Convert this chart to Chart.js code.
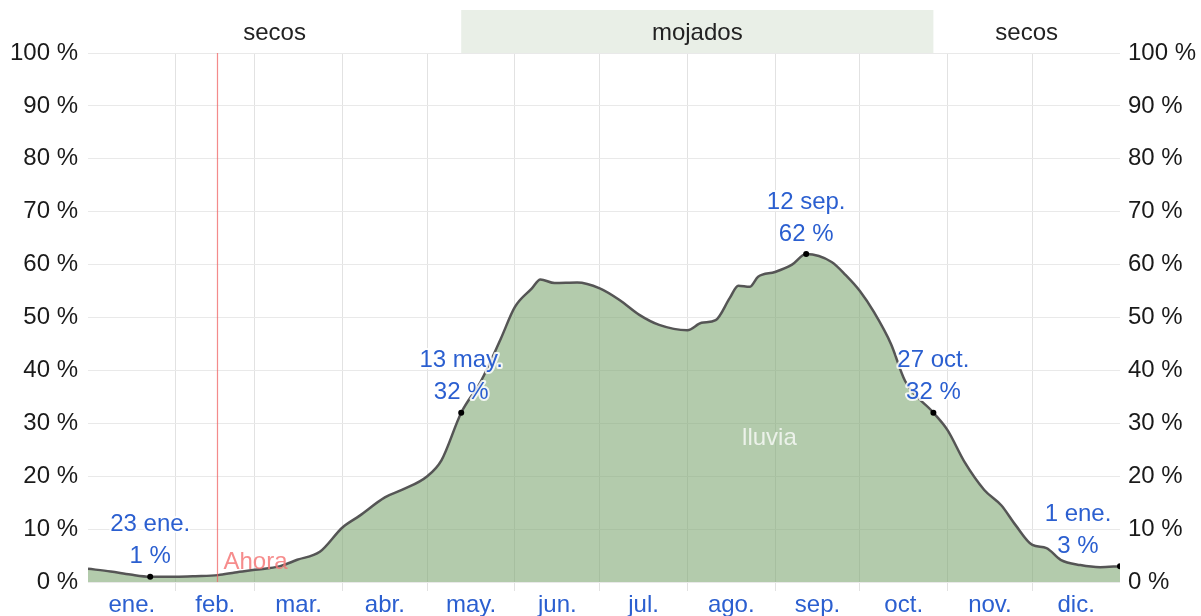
<!DOCTYPE html>
<html>
<head>
<meta charset="utf-8">
<script src="https://cdn.jsdelivr.net/npm/chart.js@4.4.1/dist/chart.umd.min.js"></script>
<style>
  html, body { margin: 0; padding: 0; background: #fff; }
  #wrap { width: 1201px; height: 616px; }
</style>
</head>
<body>
<div id="wrap"><canvas id="myChart" width="1201" height="616"></canvas></div>
<script>
// day of year (0 = 1 ene.) and daily chance of rain, %
var days = [0, 8, 15, 22, 31, 38, 46, 52, 59, 68, 74, 82, 90, 96, 105, 111, 120, 125, 132, 139, 146, 151, 157, 160, 165, 173, 181, 188, 195, 202, 212, 217, 222, 227, 230, 234, 237, 243, 249, 254, 263, 268, 273, 278, 284, 289, 299, 304, 310, 317, 323, 328, 334, 339, 344, 351, 358, 365];
var rain = [2.5, 2.0, 1.4, 1.0, 1.0, 1.1, 1.3, 1.8, 2.3, 3.0, 4.2, 5.7, 10.3, 12.5, 16.0, 17.4, 20.0, 23.0, 32.0, 38.0, 46.0, 52.0, 55.5, 57.2, 56.5, 56.6, 55.5, 53.3, 50.5, 48.6, 47.6, 49.0, 49.5, 53.7, 56.0, 55.8, 57.7, 58.6, 60.0, 62.0, 60.5, 58.0, 55.0, 51.0, 45.0, 38.0, 32.0, 28.7, 22.7, 17.4, 14.5, 10.8, 7.0, 6.4, 4.2, 3.2, 2.8, 3.0];

var monthNames = ["ene.", "feb.", "mar.", "abr.", "may.", "jun.", "jul.", "ago.", "sep.", "oct.", "nov.", "dic."];
var monthStarts = [0, 31, 59, 90, 120, 151, 181, 212, 243, 273, 304, 334, 365];
var yTicks = [0, 10, 20, 30, 40, 50, 60, 70, 80, 90, 100];

// highlighted points: day, value, date text, value text
var markDays = [22, 132, 254, 299, 365];
var markVals = [1, 32, 62, 32, 3];
var markDates = ["23 ene.", "13 may.", "12 sep.", "27 oct.", "1 ene."];
var markTexts = ["1 %", "32 %", "62 %", "32 %", "3 %"];
var markShift = [0, 0, 0, 0, -42];

// dry / wet seasons along the top
var seasonNames = ["secos", "mojados", "secos"];
var seasonFrom = [0, 132, 299];
var seasonTo = [132, 299, 365];
var nowDay = 45.5;

var blue = "#2b5fd0";
var fontFam = "'Liberation Sans', Arial, sans-serif";

var xTicks = [];
monthStarts.forEach(function (d) { xTicks.push({ value: d }); });
for (var i = 0; i < 12; i++) {
  xTicks.push({ value: (monthStarts[i] + monthStarts[i + 1]) / 2 });
}
xTicks.sort(function (a, b) { return a.value - b.value; });

function monthLabel(v) {
  for (var i = 0; i < 12; i++) {
    if (v === (monthStarts[i] + monthStarts[i + 1]) / 2) return monthNames[i];
  }
  return "";
}

var pts = days.map(function (d, i) { return { x: d, y: rain[i] }; });
var markPts = markDays.map(function (d, i) { return { x: d, y: markVals[i] }; });

var extras = {
  id: "extras",
  beforeDatasetsDraw: function (chart) {
    var c = chart.ctx, x = chart.scales.x, area = chart.chartArea;
    c.save();
    // season band
    c.font = "24px " + fontFam;
    c.textAlign = "center";
    c.textBaseline = "middle";
    for (var i = 0; i < seasonNames.length; i++) {
      var x0 = x.getPixelForValue(seasonFrom[i]);
      var x1 = x.getPixelForValue(seasonTo[i]);
      if (seasonNames[i] === "mojados") {
        c.fillStyle = "#e9efe7";
        c.fillRect(x0, 10, x1 - x0, area.top - 10);
      }
      c.fillStyle = "#222";
      c.fillText(seasonNames[i], (x0 + x1) / 2, 33);
    }
    c.restore();
  },
  afterDatasetsDraw: function (chart) {
    var c = chart.ctx, x = chart.scales.x, y = chart.scales.y, area = chart.chartArea;
    c.save();
    // "now" line
    var nx = Math.round(x.getPixelForValue(nowDay)) + 0.5;
    c.strokeStyle = "rgba(240,100,100,0.75)";
    c.lineWidth = 1.2;
    c.beginPath();
    c.moveTo(nx, area.top);
    c.lineTo(nx, area.bottom);
    c.stroke();
    c.font = "24px " + fontFam;
    c.textAlign = "left";
    c.textBaseline = "middle";
    c.fillStyle = "rgba(245,120,120,0.85)";
    c.fillText("Ahora", nx + 6, 562);

    // series name
    c.textAlign = "center";
    c.fillStyle = "rgba(255,255,255,0.75)";
    c.fillText("lluvia", x.getPixelForValue(241), 438);

    // point labels
    c.lineJoin = "round";
    for (var i = 0; i < markDays.length; i++) {
      var px = x.getPixelForValue(markDays[i]) + markShift[i];
      var py = y.getPixelForValue(markVals[i]);
      var lines = [markDates[i], markTexts[i]];
      for (var j = 0; j < 2; j++) {
        var ty = py - 52 + j * 32;
        c.strokeStyle = "rgba(255,255,255,0.85)";
        c.lineWidth = 4;
        c.strokeText(lines[j], px, ty);
        c.fillStyle = blue;
        c.fillText(lines[j], px, ty);
      }
    }
    c.restore();
  }
};

var ctx_live = document.getElementById("myChart");
var myChart = new Chart(ctx_live, {
  type: "line",
  data: {
    datasets: [{
      label: "lluvia",
      data: pts,
      borderColor: "#555",
      borderWidth: 2.5,
      backgroundColor: "rgba(128,168,117,0.6)",
      fill: "origin",
      pointRadius: 0,
      cubicInterpolationMode: "monotone",
      order: 2
    }, {
      label: "marcas",
      data: markPts,
      showLine: false,
      pointRadius: 3,
      pointBackgroundColor: "#000",
      pointBorderWidth: 0,
      order: 1
    }]
  },
  options: {
    responsive: false,
    animation: false,
    layout: { padding: { top: 53, left: 0, right: 0, bottom: 0 } },
    plugins: { legend: { display: false }, tooltip: { enabled: false } },
    scales: {
      x: {
        type: "linear",
        min: 0,
        max: 365,
        afterBuildTicks: function (scale) { scale.ticks = xTicks.slice(); },
        afterFit: function (scale) { scale.height = 34; },
        border: { display: false },
        grid: {
          tickLength: 9,
          color: function (ctx) {
            var v = ctx.tick && ctx.tick.value;
            if (monthStarts.indexOf(v) > 0 && v < 365) return "#e2e2e2";
            return "rgba(0,0,0,0)";
          }
        },
        ticks: {
          autoSkip: false,
          maxRotation: 0,
          padding: 0,
          color: blue,
          font: { family: fontFam, size: 24 },
          callback: function (v) { return monthLabel(v); }
        }
      },
      y: {
        position: "left",
        min: 0,
        max: 100,
        afterBuildTicks: function (scale) { scale.ticks = yTicks.map(function (v) { return { value: v }; }); },
        afterFit: function (scale) { scale.width = 88; },
        border: { display: false },
        grid: { color: "#e9e9e9", drawTicks: false },
        ticks: {
          padding: 10,
          color: "#1a1a1a",
          font: { family: fontFam, size: 24 },
          callback: function (v) { return v + " %"; }
        }
      },
      y2: {
        position: "right",
        min: 0,
        max: 100,
        afterBuildTicks: function (scale) { scale.ticks = yTicks.map(function (v) { return { value: v }; }); },
        afterFit: function (scale) { scale.width = 81; },
        border: { display: false },
        grid: { display: false, drawTicks: false },
        ticks: {
          padding: 8,
          color: "#1a1a1a",
          font: { family: fontFam, size: 24 },
          callback: function (v) { return v + " %"; }
        }
      }
    }
  },
  plugins: [extras]
});
</script>
</body>
</html>
